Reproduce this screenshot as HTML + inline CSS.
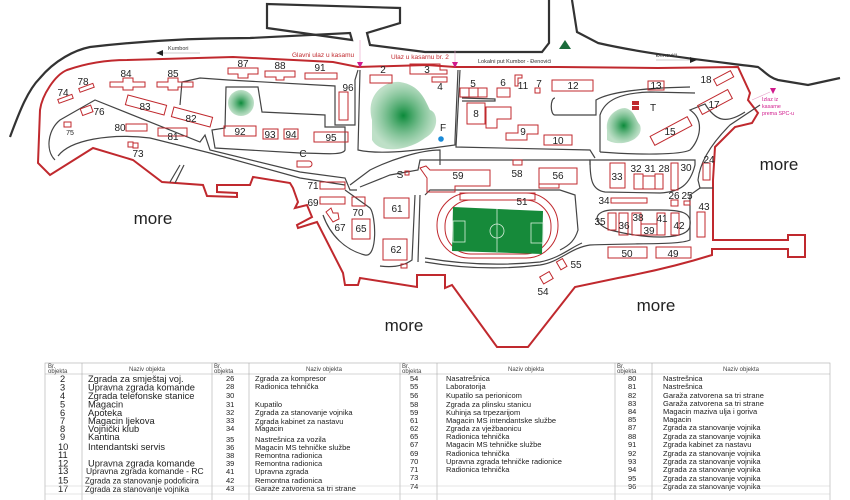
<!DOCTYPE html>
<html><head><meta charset="utf-8"><style>
html,body{margin:0;padding:0;background:#fff;width:850px;height:500px;overflow:hidden}
svg{display:block;font-family:"Liberation Sans",sans-serif}
.b{fill:none;stroke:#c0292e;stroke-width:1}
.n{font-size:10px;fill:#222}
.rd{fill:none;stroke:#444;stroke-width:1.2}
.t{font-size:7.5px;fill:#222}
.t1{font-size:9.3px;fill:#222}
.h{font-size:6px;fill:#444}
</style></head><body>
<svg width="850" height="500" viewBox="0 0 850 500">
<defs>
<radialGradient id="g"><stop offset="0" stop-color="#0b8a3a"/><stop offset="1" stop-color="#7cc08f" stop-opacity=".5"/></radialGradient>
</defs>
<!-- outer roads (dark) -->
<path d="M10,137 C20,110 28,90 40,78 C55,60 75,50 90,47 C150,40 200,38 250,38 L350,33 L352,40 L267,28 L267,4 L400,8 L400,23 L367,33 L370,45 L425,52 L542,52 L549,43 L549,0" fill="none" stroke="#333" stroke-width="2.2"/>
<path d="M572,0 L577,32 L598,43 C650,55 720,62 758,67 C765,72 770,78 778,80 L808,85 L840,78" fill="none" stroke="#333" stroke-width="2.2"/>
<!-- red boundary -->
<path d="M38,163 L40,110 C42,95 55,75 67,70 C90,62 110,60 127,60 L233,57 L333,62 L358,67 L427,65 L455,67 L558,67 L658,68 L738,67 L750,93 L748,100 L758,113 L752,123 L735,127 L715,147 L713,180 L713,240 L788,240 L788,235 L805,235 L805,257 L788,257 L788,249 L712,249 L712,255 C680,265 650,272 618,278 L575,287 L528,347 L497,347 L452,285 L445,288 L445,275 L417,275 L417,287 L360,278 L358,285 L345,285 L343,273 L317,222 L298,228 L297,225 L312,217 L307,205 L295,208 L298,202 L293,188 L290,183 L253,177 L250,185 L217,185 L217,192 L237,193 L237,197 L207,196 L203,185 L162,182 L133,160 L93,148 L50,175 Z" fill="none" stroke="#c0292e" stroke-width="2"/>
<!-- inner roads -->
<path class="rd" d="M55,160 C45,150 48,130 60,120 L95,100 L200,142 L205,135 L210,150 L300,172 L345,178 L350,190 L357,190"/>
<path class="rd" d="M58,156 C70,140 110,133 150,138 L210,153 L300,178 L345,185"/>
<path class="rd" d="M180,105 L182,82 L200,78 L228,80 L335,86 L335,125 L355,125 L355,80 L358,70"/>
<path class="rd" d="M226,87 L258,87 L262,112 L325,115 L325,127 L345,127 L345,150 C343,156 320,153 300,153 L215,148 L212,130 L225,128 Z"/>
<path class="rd" d="M360,70 L358,150 C380,155 420,150 440,147 L455,145 L455,140 L458,70"/>
<path class="rd" d="M460,70 L456,147 L590,150 L595,158"/>
<path class="rd" d="M462,98 L495,99 L495,101 L462,101"/>
<path class="rd" d="M350,185 L370,170 C390,160 420,150 440,150 L440,165"/>
<path class="rd" d="M360,187 L390,175 L418,170 L420,160 L450,160 L590,160 L590,165"/>
<path class="rd" d="M555,98 C550,98 550,115 555,115 L596,115 L596,100 C610,92 640,88 690,87"/>
<path class="rd" d="M600,152 L600,115 C605,100 620,93 650,92 L695,93"/>
<path class="rd" d="M600,152 C640,155 680,155 690,150 C700,140 705,120 690,110 L705,104 C715,120 725,125 745,112"/>
<path class="rd" d="M760,105 L730,125 C715,140 700,160 698,180 L700,188 L713,188"/>
<path class="rd" d="M590,160 C590,180 592,190 605,192 L660,193 C680,192 690,185 695,165 L695,160 Z"/>
<path class="rd" d="M613,210 C595,210 590,222 610,230 C650,240 690,240 690,225 C692,212 680,210 660,210 Z"/>
<path class="rd" d="M700,188 L690,195 L690,240 C680,245 640,243 590,245 C570,248 560,262 540,265 C500,270 460,268 425,262"/>
<path class="rd" d="M425,258 C460,264 500,266 540,262 C560,258 570,248 582,243"/>
<path class="rd" d="M425,195 L430,190 L560,190 L575,195 L578,230 C575,240 570,245 560,250"/>
<path class="rd" d="M415,195 L412,260 C405,265 395,268 380,266"/>
<path class="rd" d="M420,195 L418,262"/>
<path class="rd" d="M323,215 C330,235 345,250 365,255 C378,258 376,215 370,208 L352,195 L345,190"/>
<path class="rd" d="M170,182 L180,165 M175,183 L184,165"/>
<!-- trees -->
<ellipse cx="241" cy="103" rx="13" ry="13" fill="url(#g)"/>
<path d="M372,120 C365,95 385,80 400,82 C420,85 425,100 430,110 C438,112 440,130 425,138 C410,150 380,155 372,140 Z" fill="url(#g)"/>
<path d="M607,130 C605,115 618,108 625,108 C635,110 635,120 640,125 C645,140 620,148 607,140 Z" fill="url(#g)"/>
<!-- stadium -->
<rect x="437" y="193" width="121" height="65" rx="32" class="b"/>
<rect x="445" y="200" width="106" height="54" rx="26" class="b"/>
<rect x="460" y="193" width="75" height="7" class="b"/>
<path d="M453,207 L543,211 L542,254 L452,251 Z" fill="#168a3a"/>
<g stroke="#d7eedc" fill="none" stroke-width=".8"><line x1="497" y1="209" x2="497" y2="252"/><circle cx="497" cy="231" r="7"/><rect x="453" y="221" width="12" height="21"/><rect x="531" y="223" width="12" height="20"/></g>
<!-- buildings -->
<g class="b">
<path d="M228,68 H258 V74 H248 V78 H238 V74 H228 Z"/>
<path d="M265,71 H295 V77 H284 V80 H276 V77 H265 Z"/>
<rect x="305" y="73" width="32" height="6"/>
<rect x="339" y="92" width="9" height="28"/>
<path d="M110,82 H123 V78 H133 V82 H145 V87 H133 V90 H123 V87 H110 Z"/>
<path d="M157,82 H168 V78 H178 V82 H193 V87 H178 V90 H168 V87 H157 Z"/>
<rect x="79" y="86" width="15" height="4" transform="rotate(-20 86 88)"/>
<rect x="58" y="97" width="15" height="4" transform="rotate(-20 65 99)"/>
<rect x="126" y="100" width="40" height="10" transform="rotate(15 146 105)"/>
<rect x="172" y="112" width="40" height="10" transform="rotate(15 192 117)"/>
<rect x="81" y="107" width="11" height="7" transform="rotate(-20 86 110)"/>
<rect x="64" y="122" width="7" height="5"/>
<rect x="126" y="124" width="21" height="7"/>
<rect x="158" y="128" width="29" height="8"/>
<rect x="128" y="142" width="5" height="5"/><rect x="133" y="143" width="5" height="5"/>
<rect x="224" y="126" width="32" height="10"/>
<rect x="263" y="129" width="15" height="10"/>
<rect x="284" y="129" width="14" height="10"/>
<rect x="314" y="132" width="34" height="10"/>
<path d="M297,161 H309 A3,3 0 0 1 309,167 H297 Z"/>
<rect x="370" y="75" width="22" height="8"/>
<path d="M410,64 H440 V70 H447 V74 H440 V74 H410 Z"/>
<rect x="432" y="77" width="15" height="5"/>
<rect x="460" y="88" width="9" height="9"/><rect x="469" y="88" width="9" height="9"/><rect x="478" y="88" width="9" height="9"/>
<rect x="497" y="88" width="13" height="9"/>
<path d="M515,75 H522 V78 H518 V86 H515 Z"/>
<rect x="535" y="88" width="5" height="5"/>
<rect x="552" y="80" width="41" height="11"/>
<rect x="648" y="81" width="16" height="9"/>
<rect x="714" y="75" width="19" height="7" transform="rotate(-28 723 78)"/>
<rect x="698" y="97" width="34" height="10" transform="rotate(-28 715 102)"/>
<rect x="650" y="126" width="42" height="10" transform="rotate(-28 671 131)"/>
<rect x="467" y="103" width="18" height="21"/><path d="M485,107 H511 V119 H497 V128 H486 V107"/>
<path d="M506,133 H518 V125 H538 V134 H527 V140 H506 Z"/>
<rect x="544" y="135" width="28" height="10"/>
<path d="M420,168 L426,166 L430,170 L490,170 L490,186 L455,186 L455,192 L427,192 L427,178 Z"/>
<rect x="513" y="160" width="9" height="5"/>
<rect x="539" y="168" width="38" height="16"/><rect x="539" y="184" width="20" height="4"/>
<rect x="384" y="198" width="25" height="20"/>
<rect x="383" y="239" width="24" height="21"/><rect x="401" y="264" width="6" height="4"/>
<rect x="352" y="219" width="18" height="20"/>
<rect x="352" y="197" width="13" height="9"/>
<rect x="320" y="182" width="25" height="7"/>
<rect x="320" y="197" width="25" height="7"/>
<path d="M326,212 L331,208 L333,213 L338,213 L339,219 L333,222 Z"/>
<rect x="405" y="171" width="4" height="4"/>
<rect x="610" y="163" width="15" height="25"/>
<rect x="634" y="174" width="9" height="15"/><rect x="643" y="176" width="12" height="13"/><rect x="655" y="174" width="8" height="15"/>
<rect x="671" y="163" width="7" height="27"/>
<rect x="703" y="163" width="7" height="17"/>
<rect x="671" y="200" width="7" height="6"/><rect x="684" y="201" width="6" height="4"/>
<rect x="611" y="198" width="36" height="5"/>
<rect x="608" y="213" width="8" height="17"/>
<rect x="619" y="213" width="9" height="22"/>
<rect x="632" y="213" width="9" height="22"/>
<rect x="641" y="224" width="16" height="11"/>
<rect x="657" y="213" width="8" height="22"/>
<rect x="671" y="213" width="8" height="22"/>
<rect x="697" y="212" width="8" height="25"/>
<rect x="608" y="247" width="39" height="11"/>
<rect x="656" y="247" width="35" height="11"/>
<rect x="558" y="260" width="7" height="9" transform="rotate(-30 561 264)"/>
<rect x="541" y="274" width="11" height="8" transform="rotate(-30 546 278)"/>
</g>
<rect x="632" y="101" width="7" height="4" fill="#c0292e"/><rect x="632" y="106" width="7" height="4" fill="#c0292e"/>
<circle cx="441" cy="139" r="2.8" fill="#1a8ad8"/>
<path d="M565,40 L571,49 L559,49 Z" fill="#1a6b3a"/>
<!-- numbers -->
<g class="n" text-anchor="middle">
<text x="243" y="67">87</text><text x="280" y="69">88</text><text x="320" y="71">91</text><text x="348" y="91">96</text>
<text x="126" y="77">84</text><text x="173" y="77">85</text><text x="83" y="85">78</text><text x="63" y="96">74</text>
<text x="145" y="110">83</text><text x="191" y="122">82</text><text x="99" y="115">76</text><text x="70" y="135" style="font-size:7px">75</text>
<text x="120" y="131">80</text><text x="173" y="140">81</text><text x="138" y="157">73</text>
<text x="240" y="135">92</text><text x="270" y="138">93</text><text x="291" y="138">94</text><text x="331" y="141">95</text><text x="303" y="157">C</text>
<text x="383" y="73">2</text><text x="427" y="73">3</text><text x="440" y="90">4</text><text x="473" y="87">5</text><text x="503" y="86">6</text>
<text x="523" y="89">11</text><text x="539" y="87">7</text><text x="573" y="89">12</text><text x="656" y="89">13</text><text x="706" y="83">18</text>
<text x="714" y="108">17</text><text x="670" y="135">15</text><text x="650" y="111" text-anchor="start">T</text>
<text x="476" y="117">8</text><text x="523" y="135">9</text><text x="558" y="144">10</text><text x="443" y="131">F</text>
<text x="458" y="179">59</text><text x="517" y="177">58</text><text x="558" y="179">56</text><text x="522" y="205">51</text>
<text x="397" y="212">61</text><text x="396" y="253">62</text><text x="361" y="232">65</text><text x="358" y="216">70</text>
<text x="313" y="189">71</text><text x="313" y="206">69</text><text x="340" y="231">67</text><text x="400" y="178">S</text>
<text x="617" y="180">33</text><text x="636" y="172">32</text><text x="650" y="172">31</text><text x="664" y="172">28</text><text x="686" y="171">30</text>
<text x="709" y="163">24</text><text x="674" y="199">26</text><text x="687" y="199">25</text><text x="604" y="204">34</text>
<text x="600" y="225">35</text><text x="624" y="229">36</text><text x="638" y="221">38</text><text x="649" y="234">39</text><text x="662" y="222">41</text>
<text x="679" y="229">42</text><text x="704" y="210">43</text><text x="627" y="257">50</text><text x="673" y="257">49</text>
<text x="576" y="268">55</text><text x="543" y="295">54</text>
</g>
<g style="font-size:17px;fill:#222" text-anchor="middle">
<text x="153" y="224">more</text><text x="404" y="331">more</text><text x="656" y="311">more</text><text x="779" y="170">more</text>
</g>
<!-- road labels -->
<text x="168" y="50" style="font-size:5.5px;fill:#333">Kumbori</text>
<line x1="162" y1="53" x2="200" y2="53" stroke="#bbb" stroke-width=".8"/><path d="M156,53 L163,50 L163,56 Z" fill="#222"/>
<text x="292" y="57" style="font-size:6.5px;fill:#c0292e">Glavni ulaz u kasamu</text>
<text x="391" y="59" style="font-size:6.5px;fill:#c0292e">Ulaz u kasarnu br. 2</text>
<text x="478" y="63" style="font-size:5.5px;fill:#333">Lokalni put Kumbor - Đenovići</text>
<text x="656" y="57" style="font-size:5.5px;fill:#333">Đenovići</text>
<line x1="656" y1="60" x2="690" y2="60" stroke="#999" stroke-width=".6"/><path d="M697,60 L690,57 L690,63 Z" fill="#222"/>
<g fill="#d11a8c"><path d="M357,62 L363,62 L360,68 Z"/><path d="M452,62 L458,62 L455,68 Z"/><path d="M770,88 L776,88 L773,94 Z"/></g>
<line x1="360" y1="40" x2="360" y2="62" stroke="#e8a0c8" stroke-width=".6"/><line x1="455" y1="50" x2="455" y2="62" stroke="#e8a0c8" stroke-width=".6"/>
<line x1="752" y1="100" x2="770" y2="92" stroke="#e8a0c8" stroke-width=".6"/>
<g style="font-size:5.3px;fill:#d11a8c"><text x="762" y="101">Izlaz iz</text><text x="762" y="108">kasarne</text><text x="762" y="115">prema SPC-u</text></g>
<!-- table -->
<g stroke="#aaa" stroke-width=".6" fill="none">
<rect x="45" y="363" width="785" height="140"/>
<line x1="82" y1="363" x2="82" y2="500"/><line x1="212" y1="363" x2="212" y2="500"/><line x1="249" y1="363" x2="249" y2="500"/>
<line x1="400" y1="363" x2="400" y2="500"/><line x1="437" y1="363" x2="437" y2="500"/><line x1="615" y1="363" x2="615" y2="500"/><line x1="652" y1="363" x2="652" y2="500"/>
<line x1="45" y1="374" x2="830" y2="374"/>
</g>
<g class="h">
<text x="48" y="368">Br.</text><text x="48" y="373">objekta</text><text x="147" y="371" text-anchor="middle">Naziv objekta</text>
<text x="214" y="368">Br.</text><text x="214" y="373">objekta</text><text x="324" y="371" text-anchor="middle">Naziv objekta</text>
<text x="402" y="368">Br.</text><text x="402" y="373">objekta</text><text x="526" y="371" text-anchor="middle">Naziv objekta</text>
<text x="617" y="368">Br.</text><text x="617" y="373">objekta</text><text x="741" y="371" text-anchor="middle">Naziv objekta</text>
</g>
<g class="t1">
<text x="60" y="382">2</text><text x="88" y="382">Zgrada za smještaj voj.</text>
<text x="60" y="390.5">3</text><text x="88" y="390.5">Upravna zgrada komande</text>
<text x="60" y="399">4</text><text x="88" y="399">Zgrada telefonske stanice</text>
<text x="60" y="407.5">5</text><text x="88" y="407.5">Magacin</text>
<text x="60" y="416">6</text><text x="88" y="416">Apoteka</text>
<text x="60" y="424">7</text><text x="88" y="424">Magacin ljekova</text>
<text x="60" y="432">8</text><text x="88" y="432">Vojnički klub</text>
<text x="60" y="440">9</text><text x="88" y="440">Kantina</text>
<text x="58" y="450">10</text><text x="88" y="450">Intendantski servis</text>
<text x="58" y="458">11</text>
<text x="58" y="466.5">12</text><text x="88" y="466.5">Upravna zgrada komande</text>
<text x="58" y="474">13</text><text x="86" y="474" style="font-size:8.5px">Upravna zgrada komande - RC</text>
<text x="58" y="483.5">15</text><text x="85" y="483.5" style="font-size:8px">Zgrada za stanovanje podoficira</text>
<text x="58" y="492">17</text><text x="85" y="492" style="font-size:8px">Zgrada za stanovanje vojnika</text>
</g>
<g class="t">
<text x="226" y="381">26</text><text x="255" y="381">Zgrada za kompresor</text>
<text x="226" y="389">28</text><text x="255" y="389">Radionica tehnička</text>
<text x="226" y="398">30</text>
<text x="226" y="407">31</text><text x="255" y="407">Kupatilo</text>
<text x="226" y="415">32</text><text x="255" y="415">Zgrada za stanovanje vojnika</text>
<text x="226" y="423">33</text><text x="255" y="424">Zgrada kabinet za nastavu</text>
<text x="226" y="431">34</text><text x="255" y="431">Magacin</text>
<text x="226" y="442">35</text><text x="255" y="442">Nastrešnica za vozila</text>
<text x="226" y="450">36</text><text x="255" y="450">Magacin MS tehničke službe</text>
<text x="226" y="458">38</text><text x="255" y="458">Remontna radionica</text>
<text x="226" y="466">39</text><text x="255" y="466">Remontna radionica</text>
<text x="226" y="474">41</text><text x="255" y="474">Upravna zgrada</text>
<text x="226" y="483">42</text><text x="255" y="483">Remontna radionica</text>
<text x="226" y="491">43</text><text x="255" y="491">Garaže zatvorena sa tri strane</text>
<text x="410" y="381">54</text><text x="446" y="381">Nasatrešnica</text>
<text x="410" y="389">55</text><text x="446" y="389">Laboratorija</text>
<text x="410" y="398">56</text><text x="446" y="398">Kupatilo sa perionicom</text>
<text x="410" y="407">58</text><text x="446" y="407">Zgrada za plinsku stanicu</text>
<text x="410" y="415">59</text><text x="446" y="415">Kuhinja sa trpezarijom</text>
<text x="410" y="423">61</text><text x="446" y="423">Magacin MS intendantske službe</text>
<text x="410" y="431">62</text><text x="446" y="431">Zgrada za vježbaonicu</text>
<text x="410" y="439">65</text><text x="446" y="439">Radionica tehnička</text>
<text x="410" y="447">67</text><text x="446" y="447">Magacin MS tehničke službe</text>
<text x="410" y="456">69</text><text x="446" y="456">Radionica tehnička</text>
<text x="410" y="464">70</text><text x="446" y="464">Upravna zgrada tehničke radionice</text>
<text x="410" y="472">71</text><text x="446" y="472">Radionica tehnička</text>
<text x="410" y="480">73</text>
<text x="410" y="489">74</text>
<text x="628" y="381">80</text><text x="663" y="381">Nastrešnica</text>
<text x="628" y="389">81</text><text x="663" y="389">Nastrešnica</text>
<text x="628" y="398">82</text><text x="663" y="398">Garaža zatvorena sa tri strane</text>
<text x="628" y="406">83</text><text x="663" y="406">Garaža zatvorena sa tri strane</text>
<text x="628" y="414">84</text><text x="663" y="414">Magacin maziva ulja i goriva</text>
<text x="628" y="422">85</text><text x="663" y="422">Magacin</text>
<text x="628" y="430">87</text><text x="663" y="430">Zgrada za stanovanje vojnika</text>
<text x="628" y="439">88</text><text x="663" y="439">Zgrada za stanovanje vojnika</text>
<text x="628" y="447">91</text><text x="663" y="447">Zgrada kabinet za nastavu</text>
<text x="628" y="456">92</text><text x="663" y="456">Zgrada za stanovanje vojnika</text>
<text x="628" y="464">93</text><text x="663" y="464">Zgrada za stanovanje vojnika</text>
<text x="628" y="472">94</text><text x="663" y="472">Zgrada za stanovanje vojnika</text>
<text x="628" y="481">95</text><text x="663" y="481">Zgrada za stanovanje vojnika</text>
<text x="628" y="489">96</text><text x="663" y="489">Zgrada za stanovanje vojnika</text>
</g>
<g stroke="#ccc" stroke-width=".5">
<line x1="45" y1="486" x2="830" y2="486"/><line x1="45" y1="494" x2="830" y2="494"/>
</g>
</svg>
</body></html>
